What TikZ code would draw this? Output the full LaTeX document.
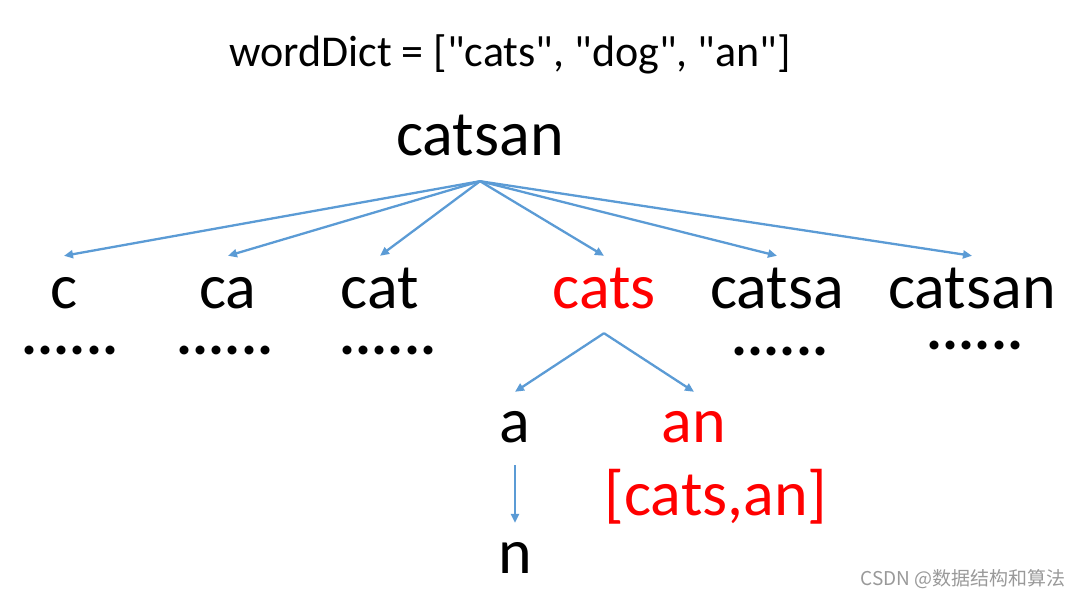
\documentclass[tikz,border=0pt]{standalone}
\usepackage{fontspec}
\setmainfont{Carlito}[Ligatures=TeXOff]
\newfontfamily\cjkfont{Noto Sans CJK SC}
\usetikzlibrary{arrows.meta}
\definecolor{linkblue}{RGB}{91,155,213}
\definecolor{hitred}{RGB}{255,0,0}

\begin{document}
\begin{tikzpicture}[x=1pt, y=-1pt,
    word/.style={inner sep=0pt, anchor=base, font=\fontsize{64}{70}\selectfont, text height=52pt},
    sub/.style={inner sep=0pt, anchor=base, font=\fontsize{64}{70}\selectfont, text height=50pt},
    more/.style={inner sep=0pt, anchor=base, font=\fontsize{60}{66}\selectfont\bfseries},
    link/.style={draw=linkblue, line width=2.3pt, -{Triangle[length=9pt,width=8pt]}}]
    \useasboundingbox (0,0) rectangle (1080,597);
    \node[anchor=base, inner sep=0pt, font=\fontsize{44}{50}\selectfont] (dict) at (510,66) {wordDict = ["cats", "dog", "an"]};
    \node[word, text depth=26pt] (root) at (480,155) {catsan};
    % first split
    \node[word] (c) at (64,308) {c};
    \node[word] (ca) at (228,308) {ca};
    \node[word] (cat) at (380,308) {cat};
    \node[word, text=hitred, text depth=25pt] (cats) at (604,308) {cats};
    \node[word] (catsa) at (777,308) {catsa};
    \node[word] (catsan) at (972,308) {catsan};
    \node[more] (mc) at (70,354) {......};
    \node[more] (mca) at (225,354) {......};
    \node[more] (mcat) at (388,354) {......};
    \node[more] (mcatsa) at (780,355) {......};
    \node[more] (mcatsan) at (975,349) {......};
    \foreach \w in {c,ca,cat,cats,catsa,catsan}
        \draw[link] (root.south) -- (\w.north);
    % second split
    \node[sub, text depth=23pt] (a) at (515,442) {a};
    \node[sub, text=hitred] (an) at (694,442) {an};
    \node[sub, text=hitred] (res) at (716,515) {[cats,an]};
    \node[sub] (n) at (515,573) {n};
    \draw[link] (cats.south) -- (a.north);
    \draw[link] (cats.south) -- (an.north);
    \draw[link] (a.south) -- (n.north);
    \node[anchor=base east, inner sep=0pt, text=black!40, font=\cjkfont\fontsize{19}{22}\selectfont] (mark) at (1066,585) {CSDN @数据结构和算法};
\end{tikzpicture}
\end{document}
